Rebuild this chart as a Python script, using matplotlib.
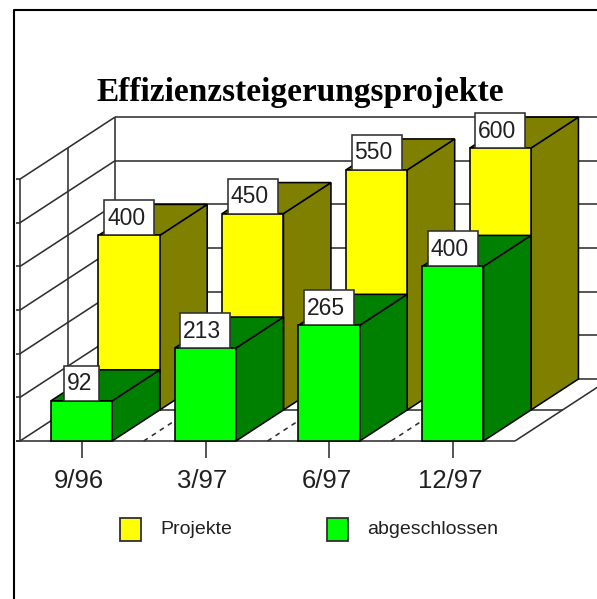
"""Oblique 3D bar chart, drawn by hand on a pixel-sized axes."""

import matplotlib

matplotlib.use("Agg")
import matplotlib.pyplot as plt  # noqa: E402
from matplotlib.patches import Polygon, Rectangle  # noqa: E402

# --- Data -------------------------------------------------------------

TITLE = "Effizienzsteigerungsprojekte"
CATEGORIES = ["9/96", "3/97", "6/97", "12/97"]
PROJEKTE = [400, 450, 550, 600]
ABGESCHLOSSEN = [92, 213, 265, 400]
Y_TICKS = [0, 100, 200, 300, 400, 500, 600]

# --- Projection (pixels) ----------------------------------------------

X0, Y0 = 20.0, 441.0
CAT_W = 123.75
DEPTH_X, DEPTH_Y = 95.0, 62.0
PX_PER_UNIT = 0.4365
BAR_FROM, BAR_TO = 0.25, 0.745

YELLOW, OLIVE = "#ffff00", "#808000"
LIME, GREEN = "#00ff00", "#008000"
INK = "#000000"
GREY = "#303030"
LW = 1.15
Z_BARS = 5  # same zorder: painted in the order they are added


def pt(cat, depth=0.0, value=0.0):
    """category position, depth 0..1, value -> pixel position"""
    return (
        X0 + cat * CAT_W + depth * DEPTH_X,
        Y0 - value * PX_PER_UNIT - depth * DEPTH_Y,
    )


def line(ax, a, b, **kw):
    kw.setdefault("color", GREY)
    kw.setdefault("lw", LW)
    ax.plot([a[0], b[0]], [a[1], b[1]], solid_capstyle="butt", **kw)


def bar(ax, i, value, depth, front, dark):
    c0, c1 = i + BAR_FROM, i + BAR_TO
    d0, d1 = depth, depth + 0.5
    faces = [
        ([pt(c1, d0, 0), pt(c1, d1, 0), pt(c1, d1, value), pt(c1, d0, value)], dark),
        ([pt(c0, d0, value), pt(c1, d0, value), pt(c1, d1, value), pt(c0, d1, value)], dark),
        ([pt(c0, d0, 0), pt(c1, d0, 0), pt(c1, d0, value), pt(c0, d0, value)], front),
    ]
    for verts, colour in faces:
        ax.add_patch(Polygon(verts, closed=True, fc=colour, ec=INK, lw=LW,
                             joinstyle="miter", zorder=Z_BARS))


def value_box(ax, i, value, depth):
    x, y = pt(i + (BAR_FROM + BAR_TO) / 2, depth, value)
    w = 50 if value >= 100 else 35
    ax.add_patch(Rectangle((x - w / 2, y - 35), w, 35, fc="white", ec=GREY, lw=LW,
                           zorder=Z_BARS))
    ax.text(x - w / 2 + 3, y - 17, str(value), ha="left", va="center", fontsize=16.5,
            color="#202020", family="Liberation Sans", zorder=Z_BARS)


def main():
    fig = plt.figure(figsize=(5.97, 5.99), dpi=100)
    ax = fig.add_axes([0, 0, 1, 1])
    ax.set_xlim(0, 597)
    ax.set_ylim(599, 0)
    ax.axis("off")

    n = len(CATEGORIES)
    top = Y_TICKS[-1]

    # outer frame of the pasted picture
    ax.plot([14, 14, 597], [599, 10, 10], color=INK, lw=1.5)

    # walls: gridlines on the back and left side
    for v in Y_TICKS:
        line(ax, pt(0, 1, v), pt(n, 1, v))
        line(ax, pt(0, 0, v), pt(0, 1, v))
        line(ax, (X0 - 4, pt(0, 0, v)[1]), pt(0, 0, v))
    for depth in (0, 0.5, 1):
        line(ax, pt(0, depth, 0), pt(0, depth, top))

    # floor
    line(ax, (X0 - 4, Y0), pt(n, 0, 0))
    line(ax, pt(0, 0.5, 0), pt(n, 0.5, 0))
    line(ax, pt(n, 0, 0), pt(n, 1, 0))
    for k in range(1, n):
        line(ax, pt(k, 0, 0), pt(k, 1, 0), ls=(0, (3, 3)))

    # axis ticks and category labels
    for i, label in enumerate(CATEGORIES):
        x, _ = pt(i + 0.5)
        line(ax, (x, Y0), (x, Y0 + 17))
        ax.text(x - 3, 481, label, ha="center", va="center", fontsize=18.5,
                color="#202020", family="Liberation Sans")

    # back row first, then the front row
    for i, v in enumerate(PROJEKTE):
        bar(ax, i, v, 0.5, YELLOW, OLIVE)
        value_box(ax, i, v, 0.5)
    for i, v in enumerate(ABGESCHLOSSEN):
        bar(ax, i, v, 0.0, LIME, GREEN)
        value_box(ax, i, v, 0.0)

    # legend
    for x, colour, label in ((120, YELLOW, "Projekte"), (327, LIME, "abgeschlossen")):
        ax.add_patch(Rectangle((x, 518), 21, 23, fc=colour, ec=GREY, lw=1.3))
        ax.text(x + 40, 530, label, ha="left", va="center", fontsize=14,
                color="#202020", family="Liberation Sans")

    ax.text(300, 92, TITLE, ha="center", va="center", fontsize=24, fontweight="bold",
            color=INK, family="Liberation Serif")

    fig.savefig("out.png", dpi=100)
    plt.close(fig)


if __name__ == "__main__":
    main()
